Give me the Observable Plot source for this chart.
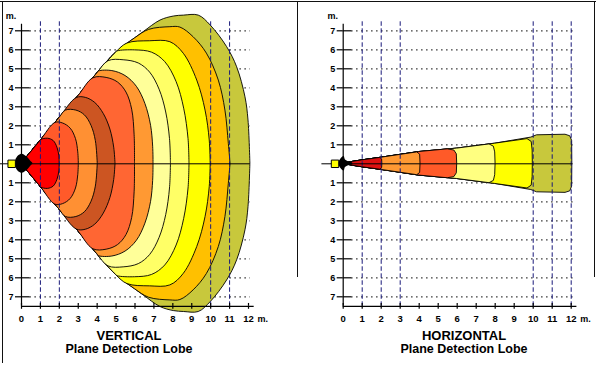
<!DOCTYPE html>
<html><head><meta charset="utf-8">
<script src="https://cdn.jsdelivr.net/npm/d3@7"></script>
<script src="https://cdn.jsdelivr.net/npm/@observablehq/plot@0.6"></script>
<style>
body{margin:0;background:#fff;}
#wrap{position:relative;width:596px;height:366px;overflow:hidden;background:#fff;font-family:"Liberation Sans",Arial,sans-serif;}
.p{position:absolute;top:0;}
.cap{position:absolute;width:240px;text-align:center;font-weight:bold;color:#000;white-space:nowrap;}
.ln{position:absolute;background:#111;}
</style></head><body>
<div id="wrap"></div>
<script>
// ---- data ----
const xTicks = [0,1,2,3,4,5,6,7,8,9,10,11,12];
const yTicks = [-7,-6,-5,-4,-3,-2,-1,1,2,3,4,5,6,7];
const vDashX = [1,2,10,11];
const hDashX = [1,2,3,10,11,12];

// vertical plane: shared cone edge (upper half, metres)
const vCone = [[0,0],[1,1.2],[2,2.4],[3,3.55],[4,4.75],[5,5.85],[6,6.6]];
// lobe colours, outermost first
const vColors = ["#c8c83c","#ffc000","#ffff00","#ffff66","#ffff99","#ff9933","#ff6633","#cc5522","#ff9033","#ff5a2a","#ff0000"];
// lobe fronts (upper half), outermost first
const vFronts = [
  [[6.46,6.93],[7.35,7.54],[8.05,7.75],[8.6,7.8],[9.37,7.8],[10,7.28],[10.87,6.14],[11.4,5.08],[11.84,3.5],[12.0,2.28],[12.1,0]],
  [[6.75,7.05],[7.87,7.19],[8.4,7.17],[9.1,6.66],[9.8,5.8],[10.43,4.38],[10.78,2.8],[10.96,1.05],[11.05,0]],
  [[5.6,6.33],[6.8,6.45],[7.87,6.4],[8.58,5.79],[9.29,4.38],[9.73,2.8],[9.95,1.23],[10,0]],
  [[5.1,5.92],[6.0,5.97],[6.9,5.85],[7.6,5.35],[8.2,4.3],[8.6,2.9],[8.83,1.3],[8.88,0]],
  [[4.6,5.4],[5.4,5.45],[6.2,5.28],[6.8,4.8],[7.3,3.9],[7.65,2.7],[7.85,1.3],[7.9,0]],
  [[4.1,4.86],[4.8,4.88],[5.5,4.62],[6.1,4.05],[6.55,3.15],[6.85,2.0],[6.96,0.9],[6.98,0]],
  [[3.8,4.5],[4.5,4.52],[5.1,4.28],[5.55,3.75],[5.85,2.85],[5.98,1.5],[6.0,0]],
  [[2.92,3.46],[3.4,3.47],[3.9,3.2],[4.35,2.62],[4.7,1.8],[4.9,0.85],[4.97,0]],
  [[2.35,2.8],[2.9,2.8],[3.35,2.55],[3.7,2.0],[3.93,1.2],[4.03,0]],
  [[1.79,2.15],[2.2,2.12],[2.6,1.85],[2.88,1.3],[3.0,0.6],[3.03,0]],
  [[1.05,1.26],[1.4,1.32],[1.7,1.2],[1.9,0.85],[2.0,0.4],[2.02,0]]
];
const vEmitter = [[-0.3,0.2],[-0.15,0.42],[0.05,0.5],[0.2,0.42],[0.35,0.3],[0.5,0.12],[0.6,0.03]];

// horizontal plane
const hCone = [[0,0],[0.5,0.1],[1,0.18],[2,0.32],[4,0.62],[6,0.8],[8,1.06],[10,1.33]];
const hColors = ["#c8c83c","#ffff00","#ffff80","#ff5a28","#ff9933","#dd1111"];
const hFronts = [
  [[9.9,1.38],[10.2,1.5],[11.7,1.53],[11.95,1.45],[12.05,1.2],[12.06,0]],
  [[9.7,1.3],[9.92,1.15],[9.97,0.7],[9.98,0]],
  [[7.7,1.02],[7.93,0.9],[8.0,0.6],[8.02,0]],
  [[5.5,0.76],[5.85,0.7],[5.98,0.5],[6.0,0]],
  [[3.9,0.6],[4.05,0.48],[4.07,0]],
  [[1.95,0.31],[2.05,0.22],[2.06,0]]
];
const hEmitter = [[-0.25,0.05],[-0.05,0.33],[0.05,0.38],[0.12,0.2],[0.3,0.1],[0.5,0.06]];

const captions = [
  {title:"VERTICAL", sub:"Plane Detection Lobe"},
  {title:"HORIZONTAL", sub:"Plane Detection Lobe"}
];
const units = [{t:"m.", x:-0.55, y:7.78},{t:"m.", x:12.75, y:-8.15}];

// ---- drawing ----
function lobes(cone, fronts, colors, curve) {
  return fronts.map((f, i) => {
    const pts = cone.filter(p => p[0] < f[0][0]).concat(f);
    return Plot.areaY(pts, {x: d => d[0], y1: d => -d[1], y2: d => d[1],
      fill: colors[i], stroke: "#000", strokeWidth: 0.9, curve});
  });
}

function panel(o) {
  return Plot.plot({
    width: o.width, height: 366,
    marginLeft: o.ml, marginRight: o.mr, marginTop: 20.8, marginBottom: 60.2,
    x: {domain: [0, 12], axis: null},
    y: {domain: [-7.5, 7.5], axis: null},
    style: {fontFamily: "Liberation Sans, Arial, sans-serif", background: "transparent", overflow: "visible", color: "#000"},
    marks: [
      Plot.ruleY(yTicks, {x1: 0.45, x2: 12.1, stroke: "#000", strokeWidth: 1.2, strokeDasharray: "1.2,3.8"}),
      ...lobes(o.cone, o.fronts, o.colors, o.curve),
      Plot.areaY(o.emitter, {x: d => d[0], y1: d => -d[1], y2: d => d[1], fill: "#000", curve: "catmull-rom"}),
      Plot.ruleX(o.dash, {y1: -7.5, y2: 7.52, stroke: "#1a1a7a", strokeWidth: 1, strokeDasharray: "4.5,2.5"}),
      Plot.ruleY([0], {x1: -1.12, x2: 12.1, stroke: "#000", strokeWidth: 1}),
      Plot.dot([0], {x: o.sensorX, y: 0, symbol: "square", r: 4.2, fill: "#ffff00", stroke: "#000", strokeWidth: 1}),
      Plot.ruleX([0], {y1: -7.5, y2: 7.35, stroke: "#000", strokeWidth: 1.2}),
      Plot.ruleY([-7.5], {x1: 0, x2: 12.3, stroke: "#000", strokeWidth: 1.2}),
      Plot.ruleY(yTicks, {x1: 0, x2: 0.45, stroke: "#000", strokeWidth: 1.2}),
      Plot.ruleX(xTicks, {y1: -7.5, y2: -7.35, stroke: "#000", strokeWidth: 1.2}),
      Plot.axisY(yTicks, {anchor: "left", label: null, tickSize: 6, tickPadding: 2, tickFormat: d => Math.abs(d), fontSize: 9, fontWeight: "bold", strokeWidth: 1.2}),
      Plot.axisX(xTicks, {anchor: "bottom", label: null, tickSize: 3, tickPadding: 6, fontSize: 9.5, fontWeight: "bold", strokeWidth: 1.2}),
      Plot.text(units, {x: "x", y: "y", text: "t", fontSize: 9, fontWeight: "bold"})
    ]
  });
}

const wrap = document.getElementById("wrap");
const left = panel({width: 298, ml: 21, mr: 50, cone: vCone, fronts: vFronts, colors: vColors, curve: "catmull-rom", emitter: vEmitter, dash: vDashX, sensorX: -0.52});
left.classList.add("p"); left.style.left = "0px";
const right = panel({width: 296, ml: 42.7, mr: 25.3, cone: hCone, fronts: hFronts, colors: hColors, curve: "linear", emitter: hEmitter, dash: hDashX, sensorX: -0.43});
right.classList.add("p"); right.style.left = "300px";
wrap.appendChild(left); wrap.appendChild(right);

const capX = [129, 464];
captions.forEach((c, i) => {
  const a = document.createElement("div");
  a.className = "cap"; a.textContent = c.title;
  a.style.cssText += `left:${capX[i]-120}px;top:329px;font-size:13px;line-height:13px;`;
  const b = document.createElement("div");
  b.className = "cap"; b.textContent = c.sub;
  b.style.cssText += `left:${capX[i]-120}px;top:342.7px;font-size:12.5px;line-height:12.5px;`;
  wrap.appendChild(a); wrap.appendChild(b);
});

// outer frame lines
[[0,1,596,1],[2,1,1,362],[297,1,1,276],[594,1,1,276]].forEach(([l,t,w,h]) => {
  const d = document.createElement("div");
  d.className = "ln";
  d.style.cssText += `left:${l}px;top:${t}px;width:${w}px;height:${h}px;`;
  wrap.appendChild(d);
});
</script>
</body></html>
